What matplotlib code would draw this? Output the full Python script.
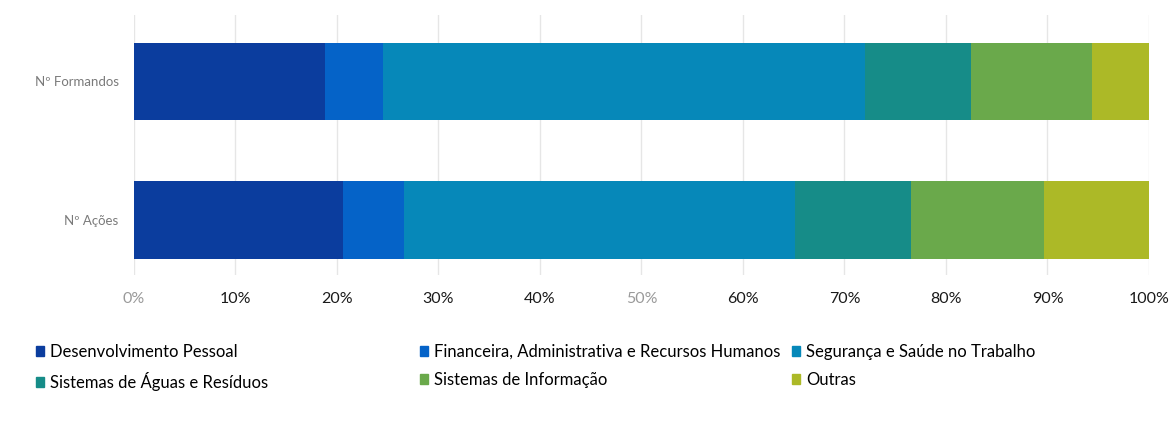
import matplotlib.pyplot as plt
from matplotlib.patches import Patch

plt.rcParams['font.family'] = ['Lato', 'DejaVu Sans']

rows = ['Nº Ações', 'Nº Formandos']
areas = ['Desenvolvimento Pessoal',
         'Financeira, Administrativa e Recursos Humanos',
         'Segurança e Saúde no Trabalho',
         'Sistemas de Águas e Resíduos',
         'Sistemas de Informação',
         'Outras']
# percentage share per area, [Nº Ações, Nº Formandos]
desenvolvimento = [20.6, 18.8]
financeira = [6.0, 5.7]
seguranca = [38.5, 47.5]
aguas = [11.5, 10.5]
informacao = [13.1, 11.9]
outras = [10.3, 5.6]
xticks = [0, 10, 20, 30, 40, 50, 60, 70, 80, 90, 100]

colors = ['#0b3d9e', '#0563c8', '#0688b9', '#168c88', '#6aa94b', '#acb927']
series = [desenvolvimento, financeira, seguranca, aguas, informacao, outras]

fig = plt.figure(figsize=(11.73, 4.29), dpi=100)
ax = fig.add_axes([0.1142, 0.359, 0.8653, 0.606])

ypos = range(len(rows))
left = [0, 0]
for vals, c, name in zip(series, colors, areas):
    ax.barh(ypos, vals, left=left, height=0.563, color=c, label=name, zorder=2)
    left = [l + v for l, v in zip(left, vals)]

ax.set_xlim(0, 100)
ax.set_ylim(-0.397, 1.48)
ax.set_xticks(xticks)
ax.set_xticklabels(['%d%%' % t for t in xticks], fontsize=11.5, color='#1a1a1a')
for i in (0, 5):
    ax.get_xticklabels()[i].set_color('#9a9a9a')
ax.set_yticks(list(ypos))
ax.set_yticklabels(rows, fontsize=9.5, color='#7a7a7a')
ax.tick_params(axis='both', length=0)
ax.tick_params(axis='x', pad=12)
ax.tick_params(axis='y', pad=11)
ax.grid(axis='x', color='#e6e6e6', linewidth=1, zorder=0)
for s in ax.spines.values():
    s.set_visible(False)

# three legend columns, two entries each
cols = [(0, 3, 0.0306), (1, 4, 0.358), (2, 5, 0.675)]
for a, b, x in cols:
    handles = [Patch(color=colors[a]), Patch(color=colors[b])]
    fig.legend(handles, [areas[a], areas[b]], loc='upper left',
               bbox_to_anchor=(x, 0.198), frameon=False, fontsize=12,
               handlelength=0.5, handleheight=0.5, handletextpad=0.35,
               labelspacing=0.7, borderaxespad=0, borderpad=0)

fig.savefig('out.png', dpi=100)
